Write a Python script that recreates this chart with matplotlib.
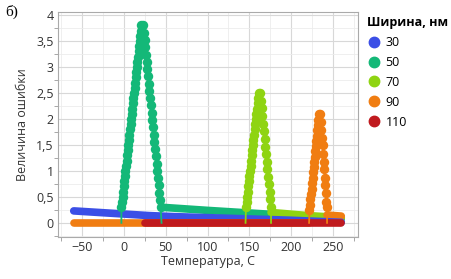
import numpy as np
import matplotlib.pyplot as plt
from matplotlib.ticker import MultipleLocator, FuncFormatter

plt.rcParams['font.family'] = ['Open Sans', 'DejaVu Sans']

#----------------------------------------------------------------
# legend / series
widths = ['30', '50', '70', '90', '110']
colors = ['#3b4fe6', '#14b878', '#8fd412', '#f07d12', '#c01a1e']

# flat parts (thick bands)
t_30 = [-60, -30, 0, 30, 60, 100, 160, 200, 260]
e_30 = [0.23, 0.20, 0.17, 0.14, 0.12, 0.10, 0.07, 0.05, 0.01]
t_50 = [45, 100, 160, 220, 260]
e_50 = [0.30, 0.24, 0.18, 0.12, 0.08]
t_70 = [176, 220, 260]
e_70 = [0.20, 0.14, 0.10]
t_90 = [-60, 222]
e_90 = [0.0, 0.0]
t_90b = [243, 260]
e_90b = [0.15, 0.13]
t_110 = [25, 260]
e_110 = [0.0, 0.0]

# spikes: rising side then falling side
s50_t = [-3.0, -2.3, -1.6, -0.9, -0.3, 0.4, 1.1, 1.8, 2.5, 3.2, 3.9, 4.5,
         5.2, 5.9, 6.6, 7.3, 8.0, 8.7, 9.3, 10.0, 10.7, 11.4, 12.1, 12.8,
         13.5, 14.1, 14.8, 15.5, 16.2, 16.9, 17.6, 18.3, 18.9, 19.6, 20.3, 21.0,
         23.0, 23.8, 24.7, 25.5, 26.4, 27.2, 28.0, 28.9, 29.7, 30.6, 31.4, 32.2,
         33.1, 33.9, 34.8, 35.6, 36.4, 37.3, 38.1, 39.0, 39.8, 40.6, 41.5, 42.3,
         43.2, 44.0]
s50_e = [0.30, 0.40, 0.50, 0.60, 0.70, 0.80, 0.90, 1.00, 1.10, 1.20, 1.30, 1.40,
         1.50, 1.60, 1.70, 1.80, 1.90, 2.00, 2.10, 2.20, 2.30, 2.40, 2.50, 2.60,
         2.70, 2.80, 2.90, 3.00, 3.10, 3.20, 3.30, 3.40, 3.50, 3.60, 3.70, 3.80,
         3.80, 3.66, 3.52, 3.38, 3.24, 3.10, 2.96, 2.82, 2.68, 2.54, 2.40, 2.26,
         2.12, 1.98, 1.84, 1.70, 1.56, 1.42, 1.28, 1.14, 1.00, 0.86, 0.72, 0.58,
         0.44, 0.30]
s50_base = [-3.0, 45.0]

s70_t = [146.0, 146.7, 147.4, 148.1, 148.8, 149.5, 150.2, 150.9, 151.6, 152.3,
         153.0, 153.7, 154.4, 155.0, 155.7, 156.4, 157.1, 157.8, 158.5, 159.2,
         159.9, 160.6, 161.3,
         163.0, 163.9, 164.7, 165.6, 166.5, 167.4, 168.2, 169.1, 170.0, 170.9,
         171.7, 172.6, 173.5, 174.4, 175.2, 176.0]
s70_e = [0.30, 0.40, 0.50, 0.60, 0.70, 0.80, 0.90, 1.00, 1.10, 1.20,
         1.30, 1.40, 1.50, 1.60, 1.70, 1.80, 1.90, 2.00, 2.10, 2.20,
         2.30, 2.40, 2.50,
         2.50, 2.35, 2.21, 2.06, 1.91, 1.77, 1.62, 1.47, 1.33, 1.18,
         1.03, 0.89, 0.74, 0.59, 0.45, 0.30]
s70_base = [145.5, 176.0]

s90_t = [222.0, 222.6, 223.2, 223.8, 224.5, 225.1, 225.7, 226.3, 226.9, 227.5,
         228.1, 228.7, 229.3, 229.9, 230.5, 231.2, 231.8, 232.4, 233.0,
         235.0, 235.7, 236.3, 237.0, 237.7, 238.3, 239.0, 239.7, 240.3, 241.0,
         241.7, 242.3, 243.0]
s90_e = [0.25, 0.35, 0.45, 0.56, 0.66, 0.76, 0.86, 0.97, 1.07, 1.17,
         1.27, 1.38, 1.48, 1.58, 1.68, 1.79, 1.89, 1.99, 2.10,
         2.10, 1.95, 1.79, 1.64, 1.49, 1.33, 1.18, 1.03, 0.87, 0.72,
         0.57, 0.41, 0.30]
s90_base = [221.5, 243.0]

#----------------------------------------------------------------
fig = plt.figure(figsize=(4.52, 2.79), dpi=100)
ax = fig.add_axes([0.128, 0.151, 0.664, 0.806])

band = dict(lw=5.5, solid_capstyle='round')
ax.plot(t_50, e_50, color=colors[1], **band)
ax.plot(t_70, e_70, color=colors[2], **band)
ax.plot(t_90b, e_90b, color=colors[3], **band)
ax.plot(t_30, e_30, color=colors[0], **band)
ax.plot(t_90, e_90, color=colors[3], **band)
ax.plot(t_110, e_110, color=colors[4], **band)

# spikes with thin stems down to zero
for st, se, sb, c in [(s50_t, s50_e, s50_base, colors[1]),
                      (s70_t, s70_e, s70_base, colors[2]),
                      (s90_t, s90_e, s90_base, colors[3])]:
    ax.plot([sb[0]] + st + [sb[1]], [0.0] + se + [0.0], color=c, lw=1.3, zorder=4)
    ax.plot(st, se, 'o', color=c, ms=6.8, mec='none', zorder=5)

# legend handles
for w, c in zip(widths, colors):
    ax.plot([], [], 'o', color=c, ms=7.5, label=w)
leg = ax.legend(title='Ширина, нм', loc='upper left', bbox_to_anchor=(1.0, 1.02),
                frameon=False, fontsize=9, handletextpad=0.3, labelspacing=0.55,
                handlelength=1.2, borderaxespad=0.3)
leg.get_title().set_fontweight('bold')
leg.get_title().set_fontsize(9)
leg._legend_box.align = 'left'

ax.set_xlim(-79, 280)
ax.set_ylim(-0.27, 4.06)
ax.xaxis.set_major_locator(MultipleLocator(50))
ax.xaxis.set_minor_locator(MultipleLocator(25))
ax.yaxis.set_major_locator(MultipleLocator(0.5))
ax.yaxis.set_minor_locator(MultipleLocator(0.25))
ax.yaxis.set_major_formatter(FuncFormatter(lambda v, p: ('%g' % v).replace('.', ',')))
ax.grid(which='major', color='#d8d8d8', lw=0.8)
ax.grid(which='minor', color='#ececec', lw=0.6)
ax.set_axisbelow(True)
ax.tick_params(which='both', labelsize=9, colors='#333333', length=0, pad=3)
ax.tick_params(which='minor', axis='both', length=3, color='#999999', direction='out')
for s in ax.spines.values():
    s.set_color('#aaaaaa')
    s.set_linewidth(0.8)

ax.set_xlabel('Температура, С', fontsize=9, color='#333333', labelpad=1)
ax.set_ylabel('Величина ошибки', fontsize=9, color='#333333', labelpad=5)

fig.text(0.012, 0.945, 'б)', fontsize=11, family='Liberation Serif')

fig.savefig('out.png', dpi=100)
